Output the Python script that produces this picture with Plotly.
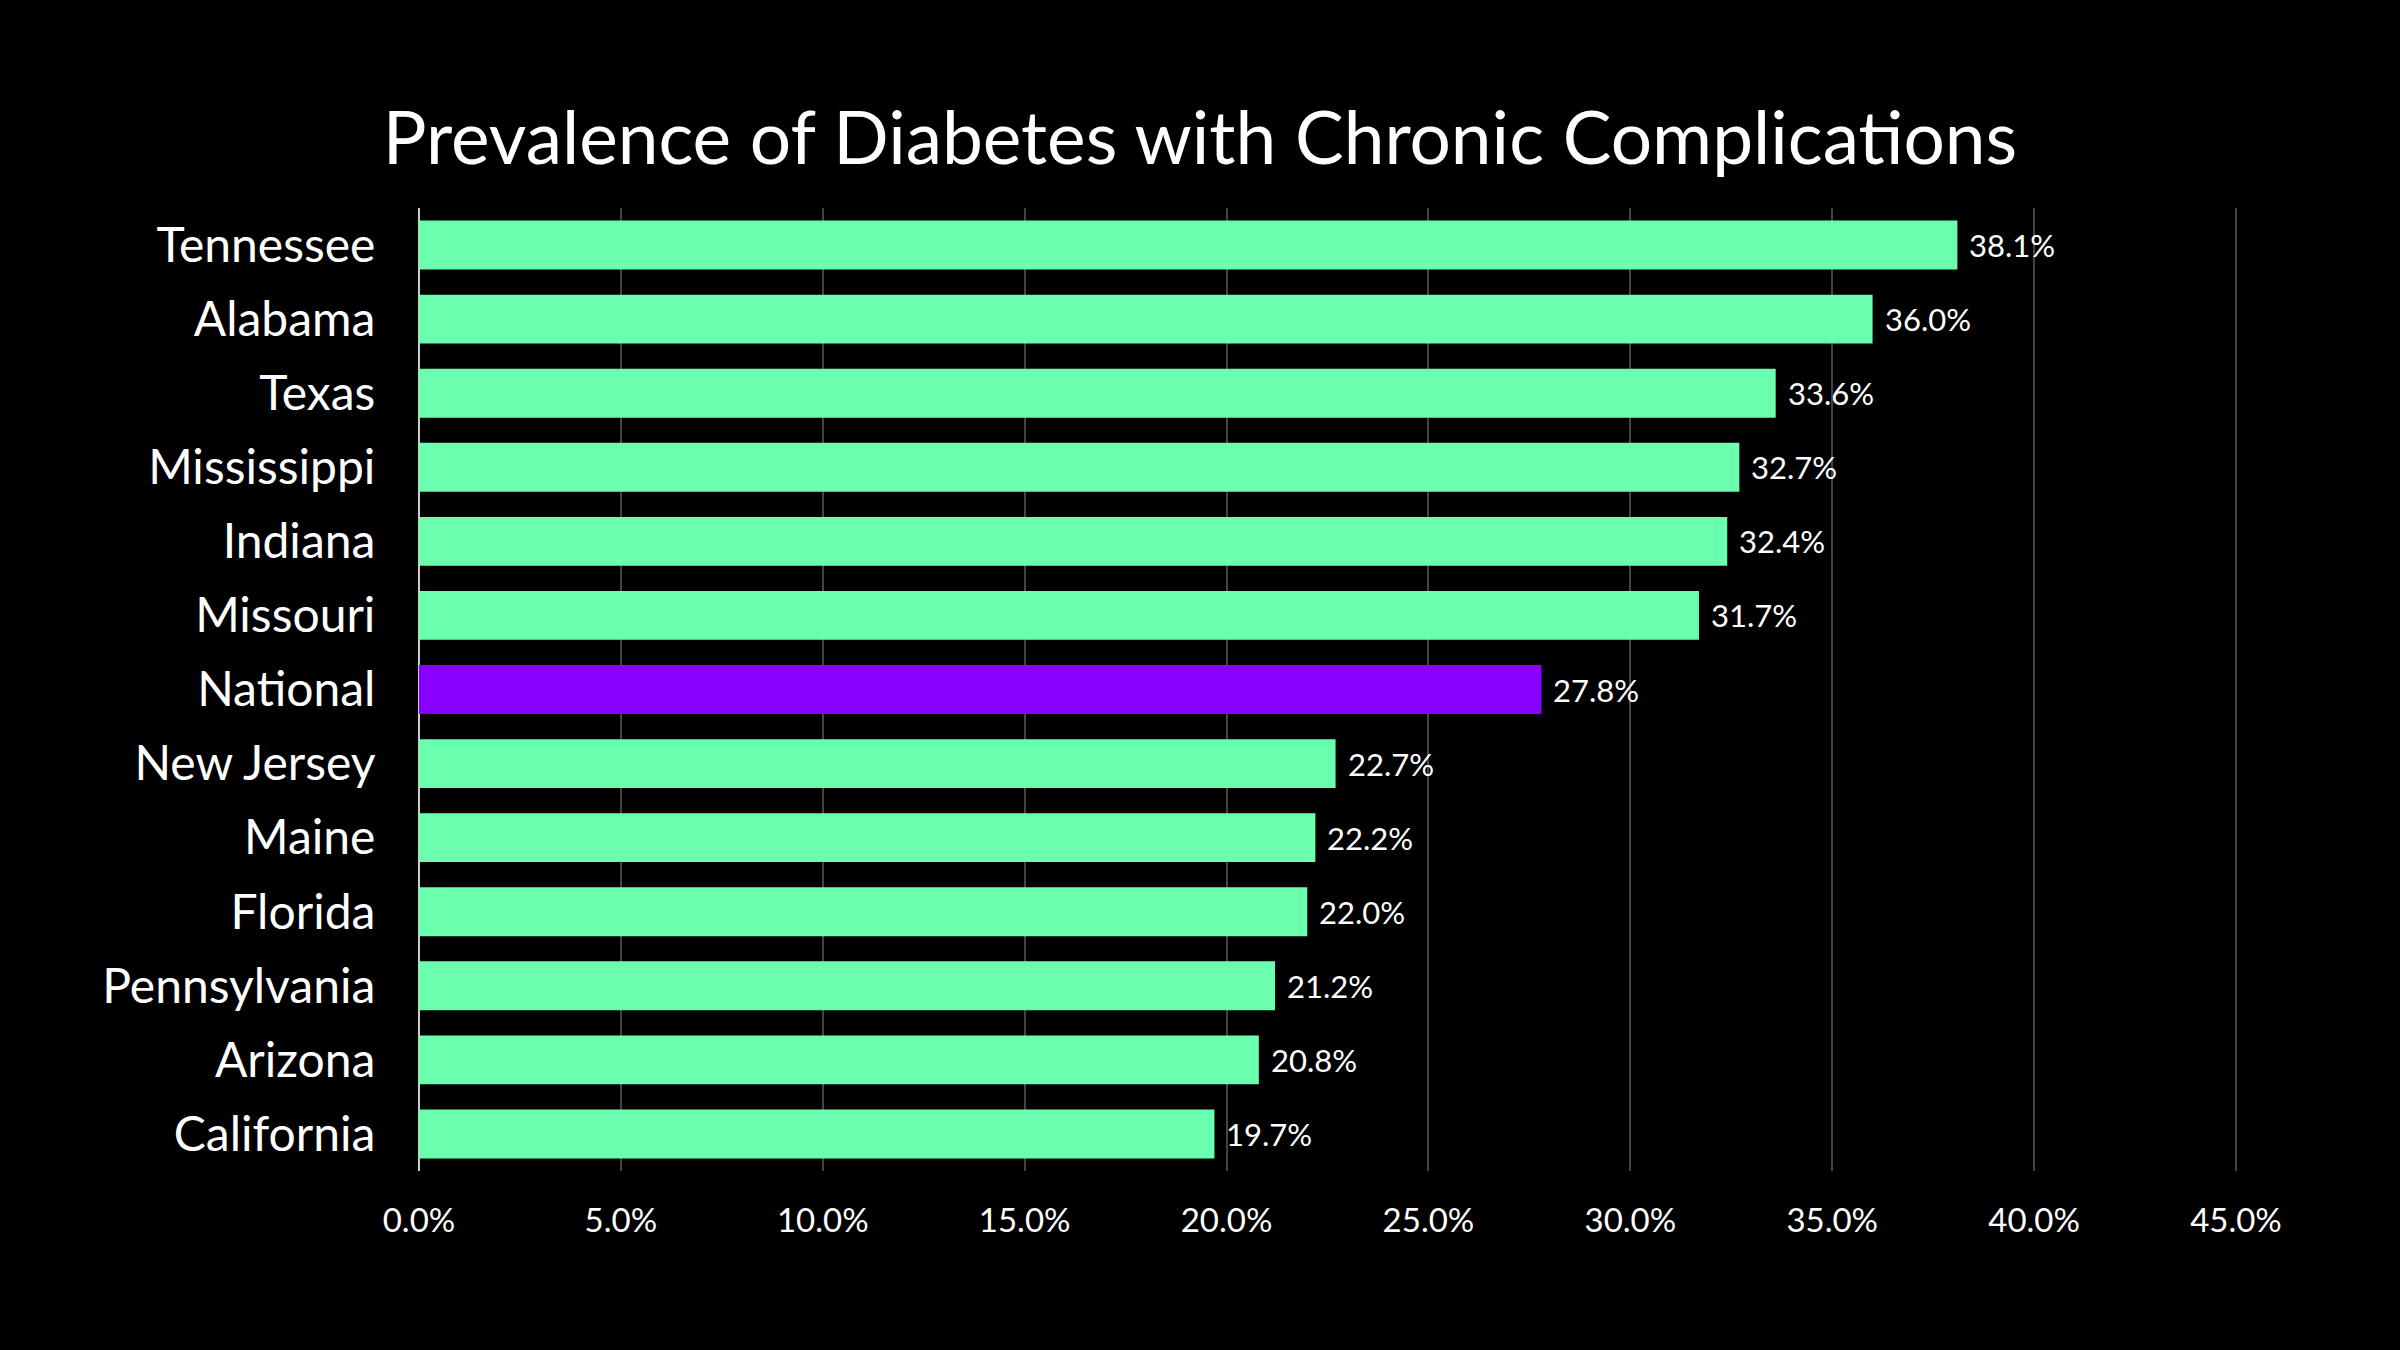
import plotly.graph_objects as go

states = ["Tennessee", "Alabama", "Texas", "Mississippi", "Indiana", "Missouri",
          "National", "New Jersey", "Maine", "Florida", "Pennsylvania", "Arizona", "California"]
values = [38.1, 36.0, 33.6, 32.7, 32.4, 31.7, 27.8, 22.7, 22.2, 22.0, 21.2, 20.8, 19.7]
tick_vals = [0, 5, 10, 15, 20, 25, 30, 35, 40, 45]
tick_text = ["0.0%", "5.0%", "10.0%", "15.0%", "20.0%", "25.0%", "30.0%", "35.0%", "40.0%", "45.0%"]

GREEN = "#6AFFAE"
PURPLE = "#8800FF"
colors = [PURPLE if s == "National" else GREEN for s in states]
FONT = "Lato"

fig = go.Figure(go.Bar(
    x=values, y=states, orientation="h",
    marker=dict(color=colors, line=dict(width=0)),
    hoverinfo="skip",
))

for s, v in zip(states, values):
    fig.add_annotation(x=v, y=s, text=f"{v:.1f}%", showarrow=False,
                       xanchor="left", xshift=10, yanchor="middle",
                       font=dict(family=FONT, size=31, color="white"))

fig.update_layout(
    width=2400, height=1350,
    paper_bgcolor="black", plot_bgcolor="black",
    margin=dict(l=419, r=162, t=208, b=179),
    bargap=0.34,
    showlegend=False,
    title=dict(text="Prevalence of Diabetes with Chronic Complications",
               x=0.5, xanchor="center", y=1 - 138/1350, yanchor="middle",
               font=dict(family=FONT, size=73, color="white")),
    xaxis=dict(range=[0, 45.05], tickvals=tick_vals, ticktext=tick_text,
               showgrid=True, gridcolor="#444444", gridwidth=2,
               zeroline=True, zerolinecolor="#cccccc", zerolinewidth=2,
               showline=False, ticks="outside", ticklen=20, tickcolor="rgba(0,0,0,0)",
               tickfont=dict(family=FONT, size=33, color="white")),
    yaxis=dict(autorange="reversed", showgrid=False, zeroline=False, showline=False,
               ticks="outside", ticklen=33, tickcolor="rgba(0,0,0,0)",
               tickfont=dict(family=FONT, size=48, color="white")),
)
fig.update_xaxes(automargin=False)
fig.update_yaxes(automargin=False)

fig.write_html("out.html", config={"displayModeBar": False},
               post_script="document.body.style.margin='0';document.body.style.background='black';")
